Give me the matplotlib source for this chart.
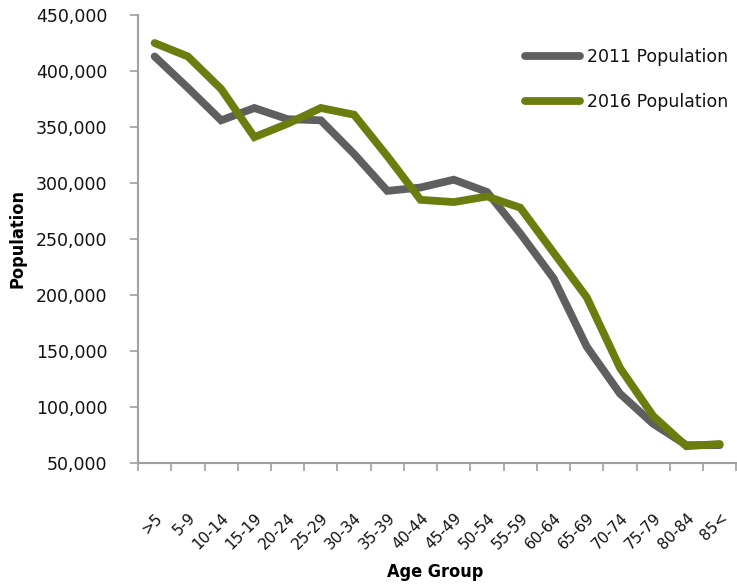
import matplotlib
matplotlib.use("Agg")
import matplotlib.pyplot as plt
from matplotlib.ticker import FuncFormatter, FixedLocator

AGE_GROUPS = [">5", "5-9", "10-14", "15-19", "20-24", "25-29", "30-34", "35-39", "40-44",
              "45-49", "50-54", "55-59", "60-64", "65-69", "70-74", "75-79", "80-84", "85<"]
POP_2011 = [413000, 385000, 356000, 367000, 357000, 356000, 326000, 293000, 296000,
            303000, 292000, 255000, 215000, 154000, 112000, 85000, 66000, 66000]
POP_2016 = [425000, 413000, 384000, 341000, 353000, 367000, 361000, 324000, 285000,
            283000, 288000, 278000, 238000, 198000, 135000, 92000, 65000, 67000]

GRAY = "#5f5f5f"
GREEN = "#6b7d0f"
AXIS = "#a0a0a0"


def main() -> None:
    fig = plt.figure(figsize=(7.37, 5.85), dpi=100)
    ax = fig.add_axes([0.1873, 0.2085, 0.8117, 0.7658])
    xs = list(range(len(AGE_GROUPS)))
    ax.plot(xs, POP_2011, color=GRAY, linewidth=5.6, solid_capstyle="round",
            solid_joinstyle="miter", label="2011 Population")
    ax.plot(xs, POP_2016, color=GREEN, linewidth=5.6, solid_capstyle="round",
            solid_joinstyle="miter", label="2016 Population")

    ax.set_xlim(-0.5, len(AGE_GROUPS) - 0.5)
    ax.set_ylim(50000, 450000)
    ax.set_yticks(range(50000, 450001, 50000))
    ax.yaxis.set_major_formatter(FuncFormatter(lambda v, _: f"{int(v):,}"))

    ax.set_xticks(xs)
    ax.set_xticklabels(AGE_GROUPS, rotation=45, ha="right", va="top", rotation_mode="anchor")
    ax.xaxis.set_minor_locator(FixedLocator([i - 0.5 for i in range(len(AGE_GROUPS) + 1)]))
    ax.tick_params(axis="x", which="major", length=0, pad=34, labelsize=11, labelcolor="#111111")
    ax.tick_params(axis="x", which="minor", length=6, width=1.2, color=AXIS, direction="out")
    ax.tick_params(axis="y", length=6, width=1.2, color=AXIS, pad=16, labelsize=12.5,
                   labelcolor="#111111")

    for side in ("top", "right"):
        ax.spines[side].set_visible(False)
    for side in ("left", "bottom"):
        ax.spines[side].set_color(AXIS)
        ax.spines[side].set_linewidth(1.5)

    label_font = dict(fontsize=13, fontweight="bold", fontstretch="condensed",
                      family="DejaVu Sans")
    fig.text(0.024, 0.592, "Population", rotation=90, ha="center", va="center", **label_font)
    fig.text(0.59, 0.022, "Age Group", ha="center", va="center", **label_font)

    leg = ax.legend(loc="upper right", bbox_to_anchor=(1.013, 0.962), frameon=False,
                    fontsize=12.5, handlelength=3.2, handletextpad=0.4, labelspacing=1.55)
    for t in leg.get_texts():
        t.set_color("#111111")

    fig.savefig("out.png", dpi=100)
    plt.close(fig)


if __name__ == "__main__":
    main()
